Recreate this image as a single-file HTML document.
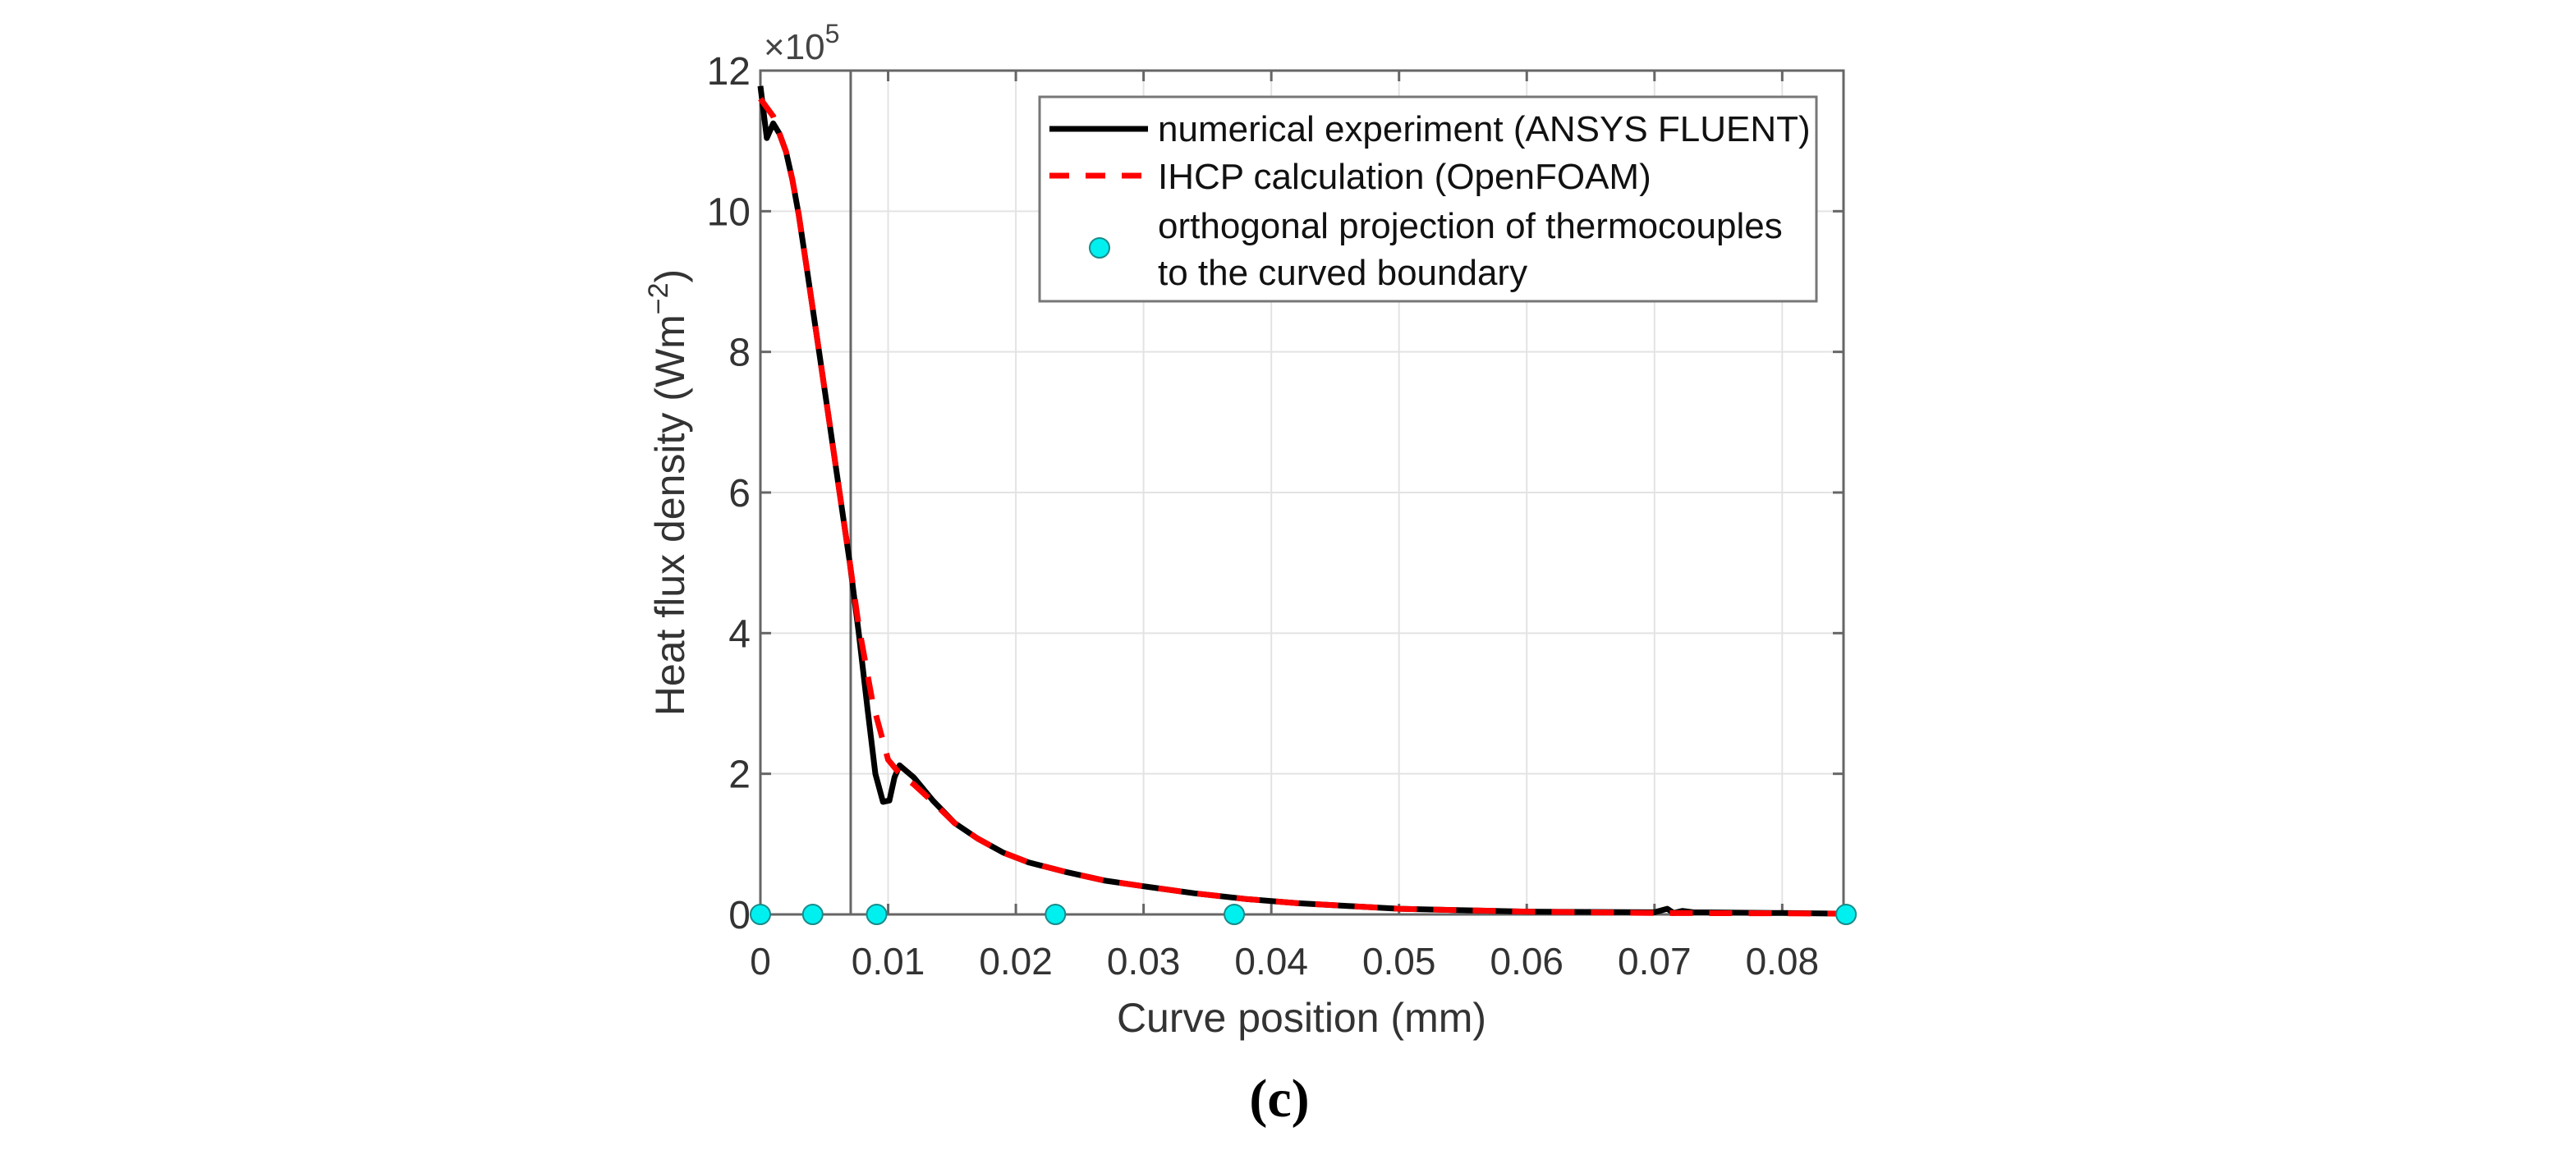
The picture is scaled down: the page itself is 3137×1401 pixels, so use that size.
<!DOCTYPE html>
<html><head><meta charset="utf-8"><style>
html,body{margin:0;padding:0;background:#fff;}
svg{display:block;font-family:"Liberation Sans",Arial,sans-serif;}
</style></head><body>
<svg id="chart" width="3137" height="1401" viewBox="0 0 3137 1401"></svg>
<script>
const xTicks=[0,0.01,0.02,0.03,0.04,0.05,0.06,0.07,0.08];
const xTickLabels=["0","0.01","0.02","0.03","0.04","0.05","0.06","0.07","0.08"];
const yTicks=[0,2,4,6,8,10,12];
const yTickLabels=["0","2","4","6","8","10","12"];
const fluentX=[0,0.0005,0.001,0.0015,0.002,0.0025,0.003,0.0037,0.0046,0.0054,0.0062,0.007,0.0077,0.0084,0.0090,0.0096,0.0101,0.0105,0.0109,0.012,0.0135,0.0152,0.017,0.019,0.021,0.024,0.027,0.030,0.034,0.038,0.042,0.046,0.050,0.055,0.060,0.070,0.0710,0.0715,0.0722,0.073,0.080,0.085];
const fluentY=[11.78,11.04,11.25,11.1,10.85,10.45,9.95,9.1,8.0,7.0,6.0,5.0,4.0,2.9,2.0,1.6,1.62,1.95,2.12,1.95,1.62,1.3,1.08,0.88,0.74,0.6,0.48,0.40,0.3,0.22,0.16,0.12,0.08,0.06,0.04,0.03,0.08,0.02,0.05,0.03,0.02,0.01];
const ihcpX=[0,0.001,0.0015,0.002,0.0025,0.003,0.0037,0.0046,0.0054,0.0062,0.007,0.0077,0.0088,0.0100,0.0110,0.012,0.0135,0.0152,0.017,0.019,0.021,0.024,0.027,0.030,0.034,0.038,0.042,0.046,0.050,0.055,0.060,0.070,0.080,0.085];
const ihcpY=[11.6,11.35,11.1,10.85,10.45,9.95,9.1,8.0,7.0,6.0,5.0,4.1,3.0,2.2,1.98,1.85,1.6,1.3,1.08,0.88,0.74,0.6,0.48,0.40,0.3,0.22,0.16,0.12,0.08,0.06,0.04,0.02,0.015,0.01];
const tcX=[0,0.0041,0.0091,0.0231,0.0371,0.085];
const tcY=[0,0,0,0,0,0];
const markerX=0.00707;

const NS="http://www.w3.org/2000/svg";
const svg=document.getElementById('chart');
const L=926,R=2245,T=86,B=1114,XMAX=0.0848,YMAX=12;
function sx(v){return L+v/XMAX*(R-L);}
function sy(v){return B-v/YMAX*(B-T);}
function el(tag,attrs,parent){const e=document.createElementNS(NS,tag);for(const k in attrs)e.setAttribute(k,attrs[k]);(parent||svg).appendChild(e);return e;}

const grid=el('g',{});


xTicks.forEach(v=>{if(v>0){const g=el('line',{x1:sx(v),x2:sx(v),y1:T,y2:B,stroke:'#e3e3e3','stroke-width':2},grid);

}});
yTicks.forEach(v=>{if(v>0&&v<12){const g=el('line',{x1:L,x2:R,y1:sy(v),y2:sy(v),stroke:'#e3e3e3','stroke-width':2},grid);

}});

const axes=el('rect',{x:L,y:T,width:R-L,height:B-T,fill:'none',stroke:'#666','stroke-width':3});



xTicks.forEach((v,i)=>{
  const t1=el('line',{x1:sx(v),x2:sx(v),y1:B,y2:B-13,stroke:'#666','stroke-width':3});
  
  
  const t2=el('line',{x1:sx(v),x2:sx(v),y1:T,y2:T+13,stroke:'#666','stroke-width':3});
  
  
  const tx=el('text',{x:sx(v),y:1187,'font-size':46,fill:'#333','text-anchor':'middle'});
  tx.textContent=xTickLabels[i];
  
  
});
yTicks.forEach((v,i)=>{
  const t1=el('line',{x1:L,x2:L+13,y1:sy(v),y2:sy(v),stroke:'#666','stroke-width':3});
  
  
  const t2=el('line',{x1:R,x2:R-13,y1:sy(v),y2:sy(v),stroke:'#666','stroke-width':3});
  
  
  const tx=el('text',{x:L-12,y:sy(v)+17,'font-size':48,fill:'#333','text-anchor':'end'});
  tx.textContent=yTickLabels[i];
  
  
});

const vl=el('line',{x1:sx(markerX),x2:sx(markerX),y1:T,y2:B,stroke:'#666','stroke-width':3});



function pts(xs,ys){return xs.map((x,i)=>sx(x).toFixed(1)+','+sy(ys[i]).toFixed(1)).join(' ');}
const fl=el('polyline',{points:pts(fluentX,fluentY),fill:'none',stroke:'#000','stroke-width':7,'stroke-linejoin':'round'});


const ih=el('polyline',{points:pts(ihcpX,ihcpY),fill:'none',stroke:'#ff0000','stroke-width':7,'stroke-dasharray':'28 20'});


tcX.forEach((x,i)=>{
  const c=el('circle',{cx:sx(x),cy:sy(tcY[i]),r:12,fill:'#00f0f0',stroke:'#1a8a8a','stroke-width':2});
  
  
});

const mult=el('text',{x:930,y:72,'font-size':44,fill:'#444'});
mult.innerHTML='×10<tspan font-size="32" dy="-20">5</tspan>';



const xt=el('text',{x:1585,y:1257,'font-size':50,fill:'#333','text-anchor':'middle'});
xt.textContent='Curve position (mm)';


const yt=el('text',{x:0,y:0,'font-size':50,fill:'#333','text-anchor':'middle',transform:'translate(833,600) rotate(-90)'});
yt.innerHTML='Heat flux density (Wm<tspan font-size="34" dy="-20">−2</tspan><tspan dy="20">)</tspan>';



const lg=el('g',{});


el('rect',{x:1266,y:118,width:946,height:249,fill:'#fff',stroke:'#777','stroke-width':3},lg);
const l1=el('line',{x1:1278,x2:1398,y1:157,y2:157,stroke:'#000','stroke-width':7},lg);


const l2=el('line',{x1:1278,x2:1398,y1:214,y2:214,stroke:'#ff0000','stroke-width':7,'stroke-dasharray':'24 20'},lg);


const l3=el('circle',{cx:1339,cy:302,r:12,fill:'#00f0f0',stroke:'#1a8a8a','stroke-width':2},lg);


[['numerical experiment (ANSYS FLUENT)',172],['IHCP calculation (OpenFOAM)',230],['orthogonal projection of thermocouples',290],['to the curved boundary',347]].forEach(([s,y])=>{
  const t=el('text',{x:1410,y:y,'font-size':44,fill:'#111'},lg);
  t.textContent=s;
  
  
});

const cap=el('text',{x:1558,y:1360,'font-size':66,'font-weight':'bold',fill:'#000','text-anchor':'middle','font-family':'"Liberation Serif",serif'});
cap.textContent='(c)';


</script>
</body></html>
